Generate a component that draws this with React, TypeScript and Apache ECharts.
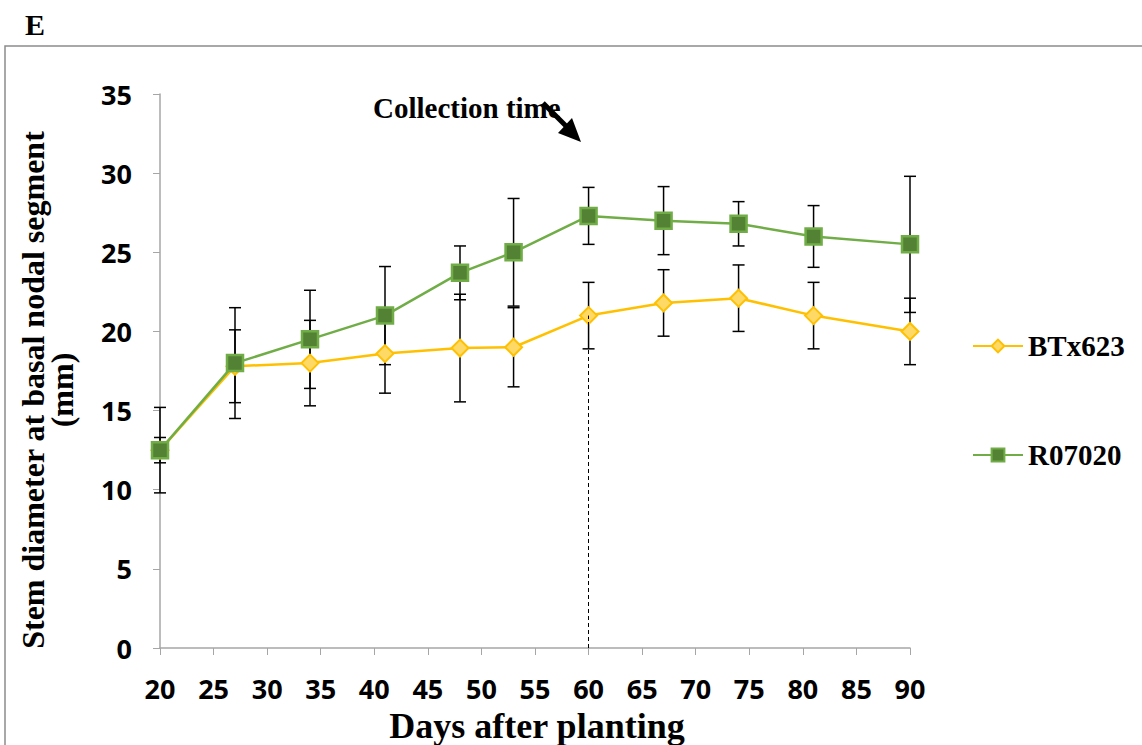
import React, { useEffect, useRef } from "react";
import * as echarts from "echarts";

const days = [20, 27, 34, 41, 48, 53, 60, 67, 74, 81, 90];
const btxMean = [12.5, 17.8, 18.0, 18.6, 18.95, 19.0, 21.0, 21.8, 22.1, 21.0, 20.0];
const btxErr = [0.8, 2.3, 2.7, 2.5, 3.4, 2.5, 2.1, 2.1, 2.1, 2.1, 2.1];
const rMean = [12.5, 18.0, 19.5, 21.0, 23.7, 25.0, 27.3, 27.0, 26.8, 26.0, 25.5];
const rErr = [2.7, 3.5, 3.1, 3.1, 1.7, 3.4, 1.8, 2.15, 1.4, 1.95, 4.3];
const collectionDay = 60;
const xTicks = { min: 20, max: 90, interval: 5 };
const yTicks = { min: 0, max: 35, interval: 5 };

const errData = (m: number[], e: number[]) =>
  days.map((d, i) => [d, m[i] - e[i], m[i] + e[i]]);

const renderErr = (params: any, api: any) => {
  const x = api.value(0);
  const lo = api.coord([x, api.value(1)]);
  const hi = api.coord([x, api.value(2)]);
  const hw = 6;
  const style = { stroke: "#000", lineWidth: 1.5 };
  return {
    type: "group",
    children: [
      { type: "line", shape: { x1: lo[0], y1: lo[1], x2: hi[0], y2: hi[1] }, style },
      { type: "line", shape: { x1: lo[0] - hw, y1: lo[1], x2: lo[0] + hw, y2: lo[1] }, style },
      { type: "line", shape: { x1: hi[0] - hw, y1: hi[1], x2: hi[0] + hw, y2: hi[1] }, style },
    ],
  };
};

export default function App() {
  const ref = useRef<HTMLDivElement>(null);
  useEffect(() => {
    if (!ref.current) return;
    const chart = echarts.init(ref.current, null, { renderer: "svg" });
    const serif = "'Liberation Serif', 'Times New Roman', serif";
    const sans = "'Open Sans', 'Liberation Sans', sans-serif";
    const legendText = { fontFamily: serif, fontWeight: "bold", fontSize: 29, color: "#000", lineHeight: 32 };
    chart.setOption({
      animation: false,
      backgroundColor: "#fff",
      grid: { left: 160, right: 232, top: 94, bottom: 97 },
      xAxis: {
        type: "value",
        ...xTicks,
        axisLine: { lineStyle: { color: "#a6a6a6", width: 1.5 } },
        axisTick: { show: true, length: 7, inside: false, lineStyle: { color: "#a6a6a6" } },
        axisLabel: { fontFamily: sans, fontWeight: "bold", fontSize: 27, color: "#000", margin: 26, lineHeight: 28 },
        splitLine: { show: false },
      },
      yAxis: {
        type: "value",
        ...yTicks,
        axisLine: { show: true, lineStyle: { color: "#a6a6a6", width: 1.5 } },
        axisTick: { show: true, length: 7, lineStyle: { color: "#a6a6a6" } },
        axisLabel: { fontFamily: sans, fontWeight: "bold", fontSize: 27, color: "#000", margin: 28 },
        splitLine: { show: false },
      },
      legend: [
        {
          data: ["BTx623"],
          left: 967,
          top: 325,
          orient: "vertical",
          itemWidth: 50,
          itemHeight: 16,
          textStyle: legendText,
        },
        {
          data: ["R07020"],
          left: 967,
          top: 434,
          orient: "vertical",
          itemWidth: 50,
          itemHeight: 16,
          textStyle: legendText,
        },
      ],
      graphic: [
        {
          type: "rect",
          shape: { x: 5, y: 46, width: 1200, height: 800 },
          style: { fill: "none", stroke: "#8c8c8c", lineWidth: 1.5 },
          silent: true,
          z: -10,
        },
        {
          type: "text",
          x: 25,
          y: 24,
          style: { text: "E", font: `bold 30px ${serif}`, fill: "#000", verticalAlign: "middle" },
        },
        {
          type: "text",
          x: 373,
          y: 108,
          style: { text: "Collection time", font: `bold 29px ${serif}`, fill: "#000", verticalAlign: "middle" },
        },
        {
          type: "line",
          shape: { x1: 543, y1: 103, x2: 567, y2: 127 },
          style: { stroke: "#000", lineWidth: 5 },
        },
        {
          type: "polygon",
          shape: { points: [[581, 142], [558, 133], [572, 118]] },
          style: { fill: "#000" },
        },
        {
          type: "text",
          x: 47,
          y: 390,
          rotation: Math.PI / 2,
          style: {
            text: "Stem diameter at basal nodal segment\n(mm)",
            font: `bold 32px ${serif}`,
            fill: "#000",
            align: "center",
            verticalAlign: "middle",
            lineHeight: 29,
          },
        },
        {
          type: "text",
          x: 537,
          y: 726,
          style: {
            text: "Days after planting",
            font: `bold 36px ${serif}`,
            fill: "#000",
            align: "center",
            verticalAlign: "middle",
            lineHeight: 36,
          },
        },
      ],
      series: [
        {
          type: "custom",
          name: "errBTx",
          renderItem: renderErr,
          data: errData(btxMean, btxErr),
          encode: { x: 0, y: [1, 2] },
          z: 1,
          silent: true,
        },
        {
          type: "custom",
          name: "errR",
          renderItem: renderErr,
          data: errData(rMean, rErr),
          encode: { x: 0, y: [1, 2] },
          z: 1,
          silent: true,
        },
        {
          type: "line",
          name: "BTx623",
          data: days.map((d, i) => [d, btxMean[i]]),
          symbol: "diamond",
          symbolSize: 17,
          lineStyle: { color: "#FFC000", width: 2.5 },
          itemStyle: { color: "#FFD966", borderColor: "#FFC000", borderWidth: 2 },
          z: 3,
          markLine: {
            silent: true,
            symbol: "none",
            label: { show: false },
            lineStyle: { color: "#000", type: [4, 3], width: 1 },
            data: [[{ coord: [collectionDay, 0] }, { coord: [collectionDay, btxMean[days.indexOf(collectionDay)]] }]],
          },
        },
        {
          type: "line",
          name: "R07020",
          data: days.map((d, i) => [d, rMean[i]]),
          symbol: "rect",
          symbolSize: 16,
          lineStyle: { color: "#70AD47", width: 2.5 },
          itemStyle: { color: "#548235", borderColor: "#70AD47", borderWidth: 2.5 },
          z: 4,
        },
      ],
    });
    return () => chart.dispose();
  }, []);
  return (
    <div
      ref={ref}
      style={{ position: "fixed", left: 0, top: 0, width: 1142, height: 745 }}
    />
  );
}
